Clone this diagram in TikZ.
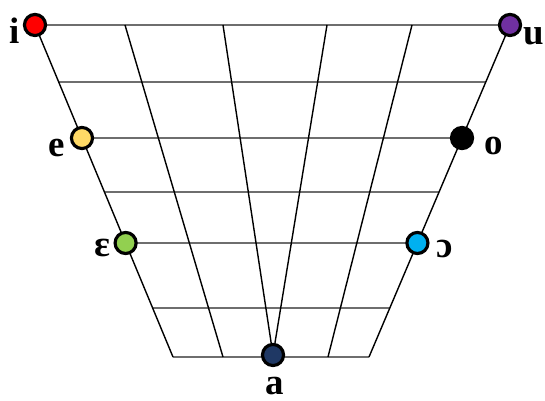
\documentclass[tikz,border=0pt]{standalone}
\usepackage{fontspec}
\setmainfont{Liberation Serif}
\usepackage{tikz}
\usetikzlibrary{calc}
\definecolor{VowRed}{HTML}{FF0000}
\definecolor{VowPurple}{HTML}{7030A0}
\definecolor{VowYellow}{HTML}{FFD966}
\definecolor{VowGreen}{HTML}{92D050}
\definecolor{VowCyan}{HTML}{00B0F0}
\definecolor{VowNavy}{HTML}{1F3864}
\definecolor{GridGray}{HTML}{6E6E6E}
\tikzset{
  vowel/.style={circle, draw=black, line width=1.8pt, minimum size=12pt, inner sep=0pt},
  lab/.style={font=\fontsize{21}{21}\selectfont\bfseries, inner sep=0pt, anchor=base},
  rung/.style={draw=GridGray, line width=1.2pt},
  rib/.style={draw=black, line width=0.8pt}
}

\begin{document}
\begin{tikzpicture}[x=0.02cm, y=-0.02cm]
\useasboundingbox (0,0) rectangle (545,401);
% corners of the chart
\coordinate (TL) at (35,25);
\coordinate (TR) at (510,25);
\coordinate (BL) at (173,357);
\coordinate (BR) at (369,357);
\coordinate (A) at (273,355);
% points on the two slanted sides
\foreach \n/\t in {1/0.1717,2/0.3404,3/0.503,4/0.6566,5/0.8524} {
  \coordinate (L\n) at ($(TL)!\t!(BL)$);
  \coordinate (R\n) at ($(TR)!\t!(BR)$);
}
% horizontal rungs
\draw[rung] (TL) -- (TR);
\foreach \n in {1,...,5} \draw[rung] (L\n) -- (R\n);
\draw[rung] (BL) -- (BR);
% slanted ribs
\draw[rib] (TL) -- (BL);
\draw[rib] (TR) -- (BR);
\draw[rib] (125,25) coordinate (T1) -- (223,357) coordinate (B1);
\draw[rib] (223,25) coordinate (T2) -- (A);
\draw[rib] (327,25) coordinate (T3) -- (A);
\draw[rib] (412,25) coordinate (T4) -- (328,357) coordinate (B4);
% vowels
\node[vowel, fill=VowRed] (i) at (TL) {};
\node[vowel, fill=VowPurple] (u) at (TR) {};
\node[vowel, fill=VowYellow] (e) at (L2) {};
\node[vowel, fill=black] (o) at (R2) {};
\node[vowel, fill=VowGreen] (eps) at (L4) {};
\node[vowel, fill=VowCyan] (openo) at (R4) {};
\node[vowel, fill=VowNavy] (a) at (A) {};
% labels
\node[lab] (li) at (15,44) {i};
\node[lab] (lu) at (534,45) {u};
\node[lab] (le) at (57,157) {e};
\node[lab] (lo) at (494,155) {o};
\node[lab] (leps) at (102,257) {ɛ};
\node[lab] (lopeno) at (445,258) {ɔ};
\node[lab] (la) at (275,395) {a};
\end{tikzpicture}
\end{document}
